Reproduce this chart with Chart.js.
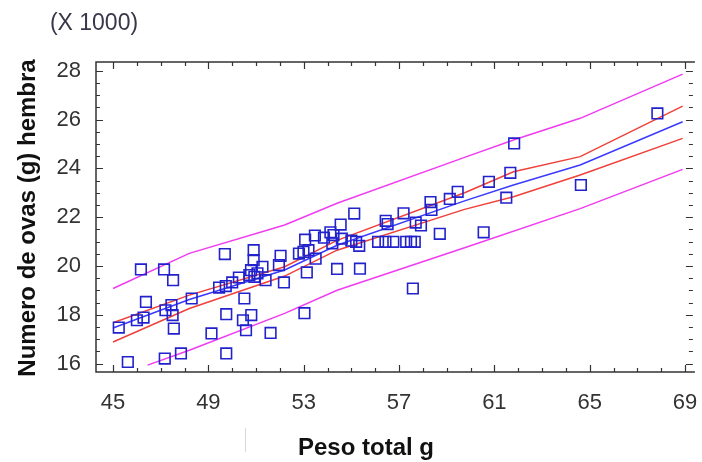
<!DOCTYPE html>
<html>
<head>
<meta charset="utf-8">
<script src="https://cdn.jsdelivr.net/npm/chart.js@4/dist/chart.umd.min.js"></script>
<style>
  html, body { margin: 0; padding: 0; background: #fff; }
</style>
</head>
<body>
<canvas id="chart" width="702" height="462"></canvas>
<script>
// peso total (g) y numero de ovas (x 1000) de cada hembra
const pesoX = [45.24, 45.62, 46.0, 46.28, 46.17, 46.38, 47.14, 47.52, 47.17, 47.55, 47.2, 47.45, 47.5, 47.85, 48.3,
  49.13, 49.69, 49.75, 49.75, 49.45, 49.73, 50.0, 50.28, 50.45, 50.51, 50.8, 50.58, 51.61, 50.9, 50.9, 50.79, 50.72,
  50.93, 51.06, 51.27, 51.4, 51.96, 52.03, 52.17, 52.8, 52.99, 53.2, 53.06, 53.47, 53.5, 53.13, 53.03, 53.85, 54.12,
  54.25, 54.2, 54.55, 54.6, 54.4, 55.12, 55.0, 55.2, 55.33, 55.36, 56.12, 56.43, 56.76, 56.44, 56.52, 57.19, 57.3,
  57.5, 57.66, 57.58, 57.7, 57.92, 58.32, 58.36, 58.71, 59.13, 59.46, 60.55, 60.77, 61.5, 61.67, 61.83, 64.63, 67.84];
const ovasY = [17.48, 16.07, 17.78, 17.89, 19.86, 18.53, 19.86, 19.42, 16.21, 17.44, 18.19, 18.4, 17.99, 16.42, 18.67,
  17.24, 20.49, 18.03, 16.42, 19.12, 19.18, 19.33, 19.53, 17.78, 18.67, 17.99, 17.37, 17.26, 20.65, 20.24, 19.83, 19.63,
  19.56, 19.7, 19.97, 19.42, 20.04, 20.42, 19.33, 20.51, 20.58, 20.65, 21.08, 21.25, 20.3, 19.74, 18.07, 21.16, 21.38,
  21.27, 20.93, 21.7, 21.12, 19.88, 22.15, 21.04, 20.99, 20.83, 19.89, 20.99, 20.99, 20.99, 21.85, 21.72, 22.16, 20.99,
  20.99, 20.99, 19.08, 21.78, 21.66, 22.62, 22.3, 21.32, 22.75, 23.04, 21.38, 23.45, 22.8, 23.82, 25.02, 23.32, 26.25];

// modelo ajustado, limites de confianza y de prediccion
const bandaX = [45, 48.2, 52.2, 54.4, 59.75, 61.8, 64.6, 68.9];
const ajuste = [17.46, 18.63, 19.84, 20.85, 22.67, 23.32, 24.14, 25.91];
const confSup = [17.68, 18.81, 19.97, 21.05, 23.0, 23.86, 24.48, 26.55];
const confInf = [16.89, 18.26, 19.59, 20.65, 22.32, 22.84, 23.73, 25.23];
const predSup = [19.08, 20.52, 21.68, 22.57, 24.45, 25.16, 26.05, 27.86];
const predInfX = [46.45, 48.2, 52.2, 54.4, 59.75, 64.6, 68.9];
const predInf = [15.94, 16.55, 18.06, 19.01, 20.75, 22.35, 23.96];

const xTicks = [45, 49, 53, 57, 61, 65, 69];
const yTicks = [16, 18, 20, 22, 24, 26, 28];

const pares = (xs, ys) => xs.map((x, i) => ({ x, y: ys[i] }));
const linea = (xs, ys, color) => ({
  data: pares(xs, ys), showLine: true, borderColor: color, borderWidth: 1.5, pointRadius: 0, fill: false,
});

const FONT = '"Liberation Sans", Arial, sans-serif';

const marco = {
  id: 'marco',
  afterDraw(chart) {
    const { ctx, chartArea: a, scales: { x, y } } = chart;
    ctx.save();
    ctx.strokeStyle = '#333';
    ctx.lineWidth = 1.5;
    ctx.beginPath();
    ctx.moveTo(a.right + 2, a.top);
    ctx.lineTo(a.left, a.top);
    ctx.lineTo(a.left, a.bottom);
    ctx.lineTo(a.right + 2, a.bottom);
    ctx.stroke();
    ctx.lineWidth = 1.2;
    ctx.beginPath();
    x.ticks.forEach((t) => {
      const px = Math.round(x.getPixelForValue(t.value)) + 0.5;
      const len = xTicks.includes(t.value) ? 7 : 4;
      ctx.moveTo(px, a.bottom); ctx.lineTo(px, a.bottom - len);
      ctx.moveTo(px, a.top); ctx.lineTo(px, a.top + len);
    });
    y.ticks.forEach((t) => {
      const py = Math.round(y.getPixelForValue(t.value)) + 0.5;
      const len = yTicks.includes(t.value) ? 7 : 4;
      ctx.moveTo(a.left, py); ctx.lineTo(a.left + len, py);
      ctx.moveTo(a.right, py); ctx.lineTo(a.right - len, py);
    });
    ctx.stroke();

    ctx.fillStyle = '#111';
    ctx.font = 'bold 24px ' + FONT;
    ctx.textAlign = 'center';
    ctx.textBaseline = 'middle';
    ctx.fillText('Peso total g', 366, 448);
    ctx.save();
    ctx.translate(28, 218);
    ctx.rotate(-Math.PI / 2);
    ctx.fillText('Numero de ovas (g) hembra', 0, 0);
    ctx.restore();
    ctx.fillStyle = '#3a3548';
    ctx.font = '23px ' + FONT;
    ctx.fillText('(X 1000)', 94, 24);

    ctx.strokeStyle = '#d8d8d8';
    ctx.lineWidth = 1;
    ctx.beginPath();
    ctx.moveTo(245.5, 428); ctx.lineTo(245.5, 452);
    ctx.stroke();
    ctx.restore();
  },
};

new Chart(document.getElementById('chart'), {
  type: 'scatter',
  data: {
    datasets: [
      {
        data: pares(pesoX, ovasY), pointStyle: 'rect', pointRadius: 7.5, borderColor: '#2222cc',
        backgroundColor: 'rgba(0,0,0,0)', borderWidth: 1.6,
      },
      linea(bandaX, ajuste, '#3a3aff'),
      linea(bandaX, confSup, '#f0403a'),
      linea(bandaX, confInf, '#f0403a'),
      linea(bandaX, predSup, '#f03cf0'),
      linea(predInfX, predInf, '#f03cf0'),
    ],
  },
  options: {
    responsive: false,
    animation: false,
    layout: { padding: { left: 56, right: 0, top: 62, bottom: 50 } },
    plugins: { legend: { display: false }, tooltip: { enabled: false } },
    scales: {
      x: {
        type: 'linear', min: 44.285, max: 69.33,
        grid: { display: false }, border: { display: false },
        ticks: {
          stepSize: 1, includeBounds: false, autoSkip: false, maxRotation: 0, padding: 10, color: '#333',
          font: { family: FONT, size: 22 },
          callback: (v) => (xTicks.includes(v) ? String(v) : ''),
        },
        afterBuildTicks: (s) => { s.ticks = s.ticks.filter((t) => Math.abs(t.value - Math.round(t.value)) < 1e-6); },
        afterFit: (s) => { s.height = 40; s.paddingLeft = 0; s.paddingRight = 0; },
      },
      y: {
        type: 'linear', min: 15.66, max: 28.357,
        grid: { display: false }, border: { display: false },
        ticks: {
          stepSize: 0.5, includeBounds: false, autoSkip: false, padding: 7, color: '#333',
          font: { family: FONT, size: 22 },
          callback: (v) => (yTicks.includes(v) ? String(v) : ''),
        },
        afterBuildTicks: (s) => { s.ticks = s.ticks.filter((t) => Math.abs(t.value * 2 - Math.round(t.value * 2)) < 1e-6); },
        afterFit: (s) => { s.width = 40; s.paddingTop = 0; s.paddingBottom = 0; },
      },
    },
  },
  plugins: [marco],
});
</script>
</body>
</html>
